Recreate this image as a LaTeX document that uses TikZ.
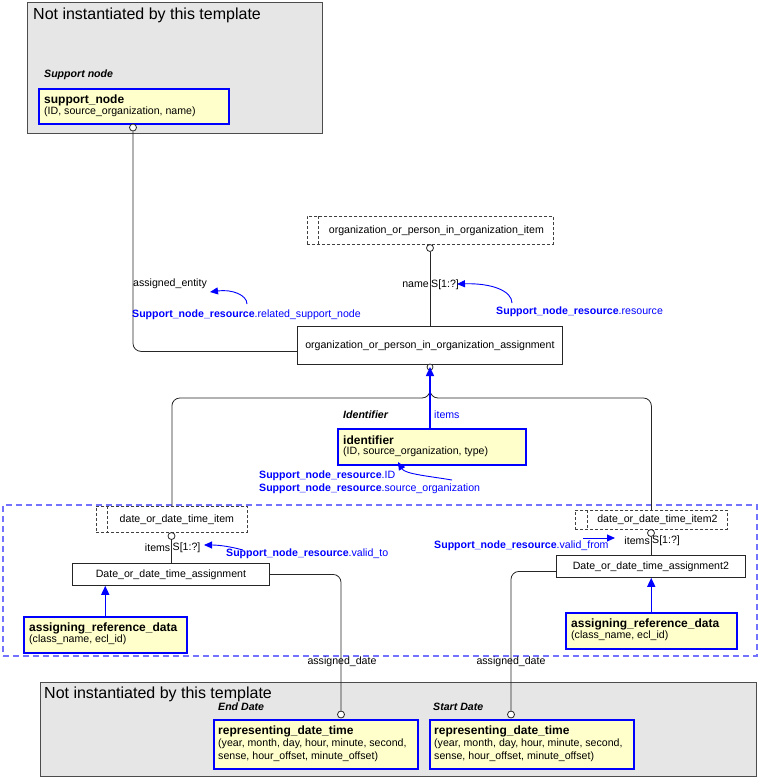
\documentclass[tikz,border=0pt]{standalone}
\usepackage{fontspec}
\setmainfont{Liberation Sans}
\usetikzlibrary{arrows.meta,calc}
\definecolor{boxgray}{HTML}{E6E6E6}
\definecolor{yel}{HTML}{FFFFCC}
\definecolor{bl}{HTML}{0000FF}
\definecolor{dashbl}{HTML}{7272FF}
\newcommand\fsN{\fontsize{10.6}{12}\selectfont}
\newcommand\fsB{\fontsize{12}{14}\selectfont\bfseries}
\newcommand\fsT{\fontsize{16}{18}\selectfont}
\newcommand\snr{\textbf{Support\_node\_resource}}
\tikzset{
  region/.style={draw=black!70, fill=boxgray, line width=1pt, anchor=north west, inner sep=0},
  ybox/.style={draw=bl, fill=yel, line width=1.5pt, anchor=north west, inner sep=0},
  pbox/.style={draw=black!85, fill=white, line width=0.8pt, anchor=north west, inner sep=0, font=\fsN},
  sbox/.style={draw=black!75, dash pattern=on 3pt off 2pt, fill=white, line width=0.8pt, anchor=north west, inner sep=0},
  lbl/.style={font=\fsN, inner sep=0, anchor=west},
  blbl/.style={font=\fsN, inner sep=0, anchor=west, text=bl},
  conn/.style={draw=black!85, line width=0.8pt},
  circ/.style={circle, draw=black!85, fill=white, line width=0.8pt, inner sep=0, minimum size=7pt},
  barrow/.style={draw=bl, line width=1.5pt, -{Triangle[length=9pt,width=8pt]}},
  bcurve/.style={draw=bl, line width=0.9pt, -{Triangle[length=8pt,width=7pt]}},
}
\begin{document}
\begin{tikzpicture}[x=1pt,y=-1pt]
\useasboundingbox (0,0) rectangle (758,777);
% dashed blue region
\node[draw=dashbl, line width=1.5pt, dash pattern=on 6pt off 4pt, anchor=north west, inner sep=0, minimum width=754, minimum height=151] (dreg) at (2,504) {};
% top gray region
\node[region, minimum width=295, minimum height=131] (reg1) at (27,2) {};
\node[lbl, font=\fsT] (t1) at (33,15) {Not instantiated by this template};
\node[lbl, font=\fsN\bfseries\itshape] (sn) at (44,75) {Support node};
\node[ybox, minimum width=190, minimum height=35] (sup) at (38,88) {};
\node[lbl, font=\fsB] at (44,100) {support\_node};
\node[lbl] at (44,112) {(ID, source\_organization, name)};
% bottom gray region
\node[region, minimum width=716, minimum height=94] (reg2) at (40,682) {};
\node[lbl, font=\fsT] (t2) at (44,694) {Not instantiated by this template};
\node[lbl, font=\fsN\bfseries\itshape] at (218,707) {End Date};
\node[lbl, font=\fsN\bfseries\itshape] at (433,707) {Start Date};
\node[ybox, minimum width=204, minimum height=49] (rdt1) at (213,719) {};
\node[lbl, font=\fsB] at (218,731) {representing\_date\_time};
\node[lbl] at (218,744) {(year, month, day, hour, minute, second,};
\node[lbl] at (218,757) {sense, hour\_offset, minute\_offset)};
\node[ybox, minimum width=204, minimum height=49] (rdt2) at (429,719) {};
\node[lbl, font=\fsB] at (434,731) {representing\_date\_time};
\node[lbl] at (434,744) {(year, month, day, hour, minute, second,};
\node[lbl] at (434,757) {sense, hour\_offset, minute\_offset)};
% select item and assignment
\node[sbox, minimum width=246, minimum height=28] (oitem) at (307,216) {};
\draw[draw=black!75, dash pattern=on 3pt off 2pt, line width=0.8pt] ($(oitem.north west)+(11,0)$) -- ($(oitem.south west)+(11,0)$);
\node[font=\fsN, inner sep=0] at ($(oitem.center)+(6,0)$) {organization\_or\_person\_in\_organization\_item};
\node[pbox, minimum width=265, minimum height=38] (asg) at (297,326) {organization\_or\_person\_in\_organization\_assignment};
% connectors top
\node[circ] (c1) at (133,127.5) {};
\draw[conn, rounded corners=8] (c1.south) |- ($(asg.west)+(0,6)$);
\node[lbl] at (133,284) {assigned\_entity};
\node[blbl] at (132,315) {\snr.related\_support\_node};
\coordinate (a1s) at (247,304);
\coordinate (a1e) at (210,292);
\draw[bcurve] (a1s) .. controls (247,295) and (232,289) .. (a1e);
\node[circ] (c2) at (430,248) {};
\draw[conn] (c2.south) -- (c2.south |- asg.north);
\node[lbl, anchor=east] at (429,285) {name};
\node[lbl] at (431,285) {S[1:?]};
\node[blbl] at (496,312) {\snr.resource};
\coordinate (a2s) at (512,303);
\coordinate (a2e) at (457,284);
\draw[bcurve] (a2s) .. controls (512,291) and (492,283) .. (a2e);
% identifier
\node[font=\fsN\bfseries\itshape, anchor=west, inner sep=0] at (343,415) {Identifier};
\node[blbl] at (434,415) {items};
\node[ybox, minimum width=188, minimum height=36] (ident) at (337,428) {};
\node[lbl, font=\fsB] at (343,440) {identifier};
\node[lbl] at (343,452) {(ID, source\_organization, type)};
\node[blbl] at (259,476) {\snr.ID};
\node[blbl] at (259,489) {\snr.source\_organization};
\coordinate (a3s) at (452,480);
\coordinate (a3e) at (398,462);
\draw[bcurve] (a3s) .. controls (428,476) and (405,474) .. (a3e);
% split
\node[circ, minimum size=6pt] (c3) at (430,367) {};
\coordinate (split) at (430,398);
% left date
\node[sbox, minimum width=151, minimum height=26] (ditem) at (96,506) {};
\draw[draw=black!75, dash pattern=on 3pt off 2pt, line width=0.8pt] ($(ditem.north west)+(11,0)$) -- ($(ditem.south west)+(11,0)$);
\node[font=\fsN, inner sep=0] at ($(ditem.center)+(5,0)$) {date\_or\_date\_time\_item};
\node[pbox, minimum width=197, minimum height=22] (dasg) at (72,563) {Date\_or\_date\_time\_assignment};
\node[circ] (c4) at (171.5,536) {};
\draw[conn] (c4.south) -- (c4.south |- dasg.north);
\node[lbl, anchor=east] at (170.5,548) {items};
\node[lbl] at (172.5,548) {S[1:?]};
\node[blbl] at (226,554) {\snr.valid\_to};
\coordinate (a4s) at (243,550);
\coordinate (a4e) at (204,545);
\draw[bcurve] (a4s) .. controls (232,547) and (220,545) .. (a4e);
\node[ybox, minimum width=163, minimum height=36] (ard1) at (23,616) {};
\node[lbl, font=\fsB] at (29,628) {assigning\_reference\_data};
\node[lbl] at (29,640) {(class\_name, ecl\_id)};
\draw[barrow] (ard1.north) -- (ard1.north |- dasg.south);
% right date
\node[sbox, minimum width=152, minimum height=19] (ditem2) at (575,510) {};
\draw[draw=black!75, dash pattern=on 3pt off 2pt, line width=0.8pt] ($(ditem2.north west)+(12,0)$) -- ($(ditem2.south west)+(12,0)$);
\node[font=\fsN, inner sep=0] at ($(ditem2.center)+(6,0)$) {date\_or\_date\_time\_item2};
\node[pbox, minimum width=189, minimum height=22] (dasg2) at (556,555) {Date\_or\_date\_time\_assignment2};
\node[circ] (c7) at (651,533) {};
\draw[conn] (c7.south) -- (c7.south |- dasg2.north);
\node[lbl, anchor=east] at (650,541) {items};
\node[lbl] at (652,541) {S[1:?]};
\node[blbl] at (434,546) {\snr.valid\_from};
\coordinate (a5s) at (583,538);
\coordinate (a5e) at (615,538);
\draw[bcurve] (a5s) -- (a5e);
\node[ybox, minimum width=171, minimum height=36] (ard2) at (565,612) {};
\node[lbl, font=\fsB] at (571,624) {assigning\_reference\_data};
\node[lbl] at (571,636) {(class\_name, ecl\_id)};
\draw[barrow] (ard2.north) -- (ard2.north |- dasg2.south);
% split lines
\draw[conn, rounded corners=8] (c3.south) -- (split) -| (ditem.north);
\draw[conn, rounded corners=8] (c3.south) -- (split) -| (ditem2.north);
\draw[barrow] (ident.north -| c3) -- (c3.center);
% to representing_date_time
\node[circ] (c5) at (341,714.5) {};
\node[circ] (c6) at (511,714.5) {};
\draw[conn, rounded corners=8] (dasg.east) -| (c5.north);
\draw[conn, rounded corners=8] ($(dasg2.west)+(0,5)$) -| (c6.north);
\node[font=\fsN, inner sep=0] at (342,662) {assigned\_date};
\node[font=\fsN, inner sep=0] at (511,662) {assigned\_date};
\end{tikzpicture}
\end{document}
